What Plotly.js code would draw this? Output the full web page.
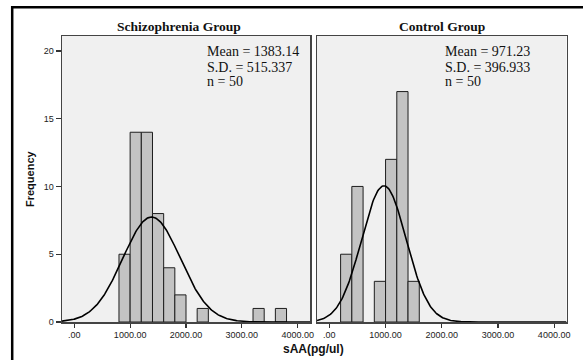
<!DOCTYPE html>
<html>
<head>
<meta charset="utf-8">
<script src="https://cdn.plot.ly/plotly-3.0.1.min.js"></script>
<style>
html,body{margin:0;padding:0;background:#fff;}
#chart{width:583px;height:360px;}
</style>
</head>
<body>
<div id="chart"></div>
<script>
// ---- Data ----
var binWidth = 200;
var schizCenters = [900, 1100, 1300, 1500, 1700, 1900, 2300, 3300, 3700];
var schizCounts  = [5, 14, 14, 8, 4, 2, 1, 1, 1];
var ctrlCenters  = [300, 500, 900, 1100, 1300, 1500];
var ctrlCounts   = [5, 10, 3, 12, 17, 3];
var schizStats = {mean: 1383.14, sd: 515.337, n: 50};
var ctrlStats  = {mean: 971.23, sd: 396.933, n: 50};
var panelTitles = ["Schizophrenia Group", "Control Group"];
var xTickVals = [0, 1000, 2000, 3000, 4000];
var xTickText = [".00", "1000.00", "2000.00", "3000.00", "4000.00"];
var yTickVals = [0, 5, 10, 15, 20];
var xRange = [-220, 4220];
var yRange = [0, 21.1];

// Normal curve scaled to the histogram (as drawn by SPSS from mean/SD/n)
function normalCurve(st) {
  var xs = [], ys = [];
  for (var i = 0; i <= 300; i++) {
    var x = xRange[0] + (xRange[1] - xRange[0]) * i / 300;
    var z = (x - st.mean) / st.sd;
    xs.push(x);
    ys.push(st.n * binWidth * Math.exp(-0.5 * z * z) / (st.sd * Math.sqrt(2 * Math.PI)));
  }
  return {x: xs, y: ys};
}
var c1 = normalCurve(schizStats), c2 = normalCurve(ctrlStats);

var barStyle = {color: '#c3c3c3', line: {color: '#1e1e1e', width: 1}};
var traces = [
  {type: 'bar', x: schizCenters, y: schizCounts, width: binWidth, marker: barStyle, xaxis: 'x', yaxis: 'y'},
  {type: 'scatter', mode: 'lines', x: c1.x, y: c1.y, line: {color: '#000', width: 1.6}, xaxis: 'x', yaxis: 'y'},
  {type: 'bar', x: ctrlCenters, y: ctrlCounts, width: binWidth, marker: barStyle, xaxis: 'x2', yaxis: 'y2'},
  {type: 'scatter', mode: 'lines', x: c2.x, y: c2.y, line: {color: '#000', width: 1.6}, xaxis: 'x2', yaxis: 'y2'}
];

var W = 583, H = 360;
function px(x) { return x / W; }
function py(y) { return 1 - y / H; }

var tickFont = {family: 'Liberation Sans, Arial, sans-serif', size: 9, color: '#222'};
var xBase = {
  range: xRange, tickmode: 'array', tickvals: xTickVals, ticktext: xTickText,
  ticks: 'outside', ticklen: 4, tickwidth: 1.2, tickcolor: '#333',
  showline: true, mirror: true, linecolor: '#444', linewidth: 1.5,
  showgrid: false, zeroline: false, tickfont: tickFont, fixedrange: true
};
var xaxis1 = Object.assign({}, xBase, {domain: [px(62), px(310)], anchor: 'y'});
var xaxis2 = Object.assign({}, xBase, {domain: [px(317), px(566.5)], anchor: 'y2'});

var yaxis1 = {
  domain: [py(322), py(36)], range: yRange, anchor: 'x',
  tickmode: 'array', tickvals: yTickVals, ticks: 'outside', ticklen: 5, tickwidth: 1.2, tickcolor: '#333',
  showline: true, mirror: true, linecolor: '#444', linewidth: 1.5,
  showgrid: false, zeroline: false, tickfont: tickFont, fixedrange: true
};
var yaxis2 = {
  domain: [py(322), py(36)], range: yRange, anchor: 'x2',
  showticklabels: false, ticks: '',
  showline: true, mirror: true, linecolor: '#444', linewidth: 1.5,
  showgrid: false, zeroline: false, fixedrange: true
};

var serif = 'Liberation Serif, Times New Roman, serif';
var statFont = {family: serif, size: 14, color: '#111'};
function statLines(st, xpx) {
  var lines = ['Mean = ' + st.mean, 'S.D. = ' + st.sd, 'n = ' + st.n];
  var ys = [52, 67, 81.5];
  return lines.map(function (t, i) {
    return {xref: 'paper', yref: 'paper', x: px(xpx), y: py(ys[i]), xanchor: 'left', yanchor: 'middle',
            text: t, showarrow: false, font: statFont};
  });
}

var annotations = [
  {xref: 'paper', yref: 'paper', x: px(179), y: py(27), xanchor: 'center', yanchor: 'middle',
   text: '<b>' + panelTitles[0] + '</b>', showarrow: false, font: {family: serif, size: 13.5, color: '#111'}},
  {xref: 'paper', yref: 'paper', x: px(442), y: py(27), xanchor: 'center', yanchor: 'middle',
   text: '<b>' + panelTitles[1] + '</b>', showarrow: false, font: {family: serif, size: 13.5, color: '#111'}},
  {xref: 'paper', yref: 'paper', x: px(30), y: py(179), xanchor: 'center', yanchor: 'middle', textangle: -90,
   text: '<b>Frequency</b>', showarrow: false, font: {family: 'Liberation Sans, Arial, sans-serif', size: 11, color: '#111'}},
  {xref: 'paper', yref: 'paper', x: px(314), y: py(349), xanchor: 'center', yanchor: 'middle',
   text: '<b>sAA(pg/ul)</b>', showarrow: false, font: {family: 'Liberation Sans, Arial, sans-serif', size: 12, color: '#111'}}
].concat(statLines(schizStats, 205)).concat(statLines(ctrlStats, 443));

var shapes = [
  {type: 'line', xref: 'paper', yref: 'paper', x0: px(11), x1: 1, y0: py(7.2), y1: py(7.2), line: {color: '#000', width: 2.5}},
  {type: 'line', xref: 'paper', yref: 'paper', x0: px(12.2), x1: px(12.2), y0: py(6), y1: 0, line: {color: '#000', width: 2.5}}
];

var layout = {
  width: W, height: H, margin: {l: 0, r: 0, t: 0, b: 0},
  paper_bgcolor: '#ffffff', plot_bgcolor: '#f0f0f0',
  showlegend: false, bargap: 0,
  xaxis: xaxis1, xaxis2: xaxis2, yaxis: yaxis1, yaxis2: yaxis2,
  annotations: annotations, shapes: shapes
};

Plotly.newPlot('chart', traces, layout, {staticPlot: true, displayModeBar: false});
</script>
</body>
</html>
